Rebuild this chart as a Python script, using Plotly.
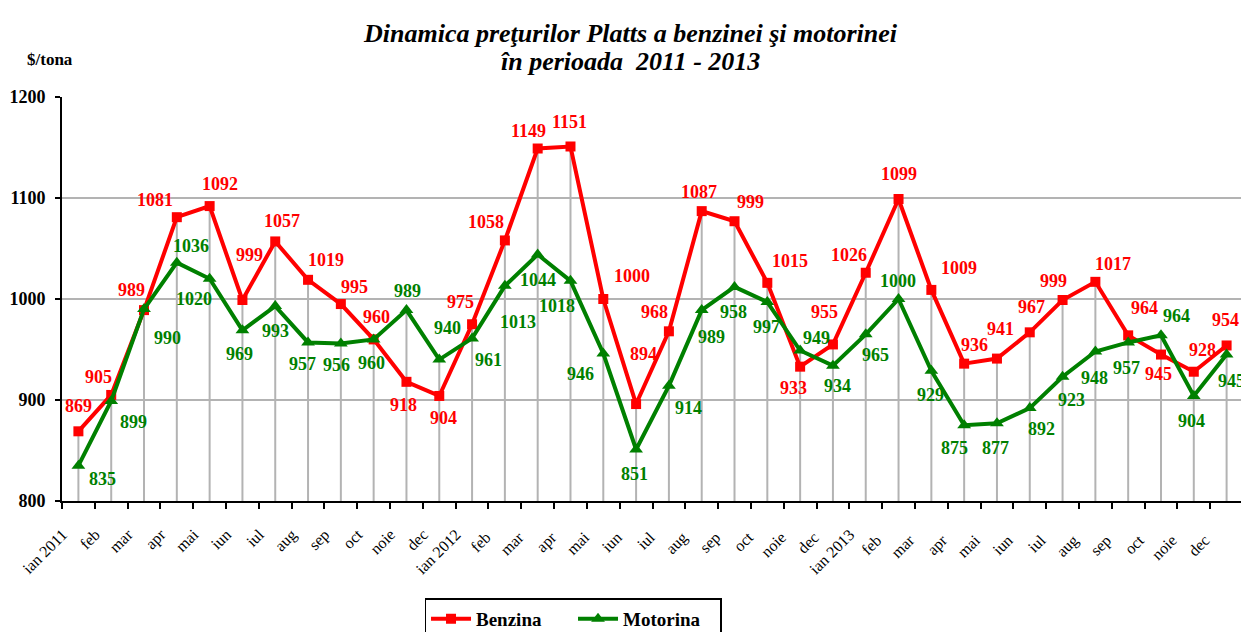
import plotly.graph_objects as go

months = ["ian 2011", "feb", "mar", "apr", "mai", "iun", "iul", "aug", "sep", "oct", "noie", "dec",
          "ian 2012", "feb ", "mar ", "apr ", "mai ", "iun ", "iul ", "aug ", "sep ", "oct ", "noie ", "dec ",
          "ian 2013", "feb  ", "mar  ", "apr  ", "mai  ", "iun  ", "iul  ", "aug  ", "sep  ", "oct  ", "noie  ", "dec  "]

benzina = [869, 905, 989, 1081, 1092, 999, 1057, 1019, 995, 960, 918, 904,
           975, 1058, 1149, 1151, 1000, 896, 968, 1087, 1077, 1016, 933, 955,
           1026, 1099, 1009, 936, 941, 967, 999, 1017, 964, 945, 928, 954]
benzina_labels = ["869", "905", "989", "1081", "1092", "999", "1057", "1019", "995", "960", "918", "904",
                  "975", "1058", "1149", "1151", "1000", "894", "968", "1087", "999", "1015", "933", "955",
                  "1026", "1099", "1009", "936", "941", "967", "999", "1017", "964", "945", "928", "954"]

motorina = [835, 899, 990, 1036, 1020, 969, 993, 957, 956, 960, 989, 940,
            961, 1013, 1044, 1018, 946, 851, 914, 989, 1012, 997, 949, 934,
            965, 1000, 929, 875, 877, 892, 923, 948, 957, 964, 904, 945]
motorina_labels = ["835", "899", "990", "1036", "1020", "969", "993", "957", "956", "960", "989", "940",
                   "961", "1013", "1044", "1018", "946", "851", "914", "989", "958", "997", "949", "934",
                   "965", "1000", "929", "875", "877", "892", "923", "948", "957", "964", "904", "945"]

# label offsets in pixels (x, y up) relative to the point -- styling only
red_off = [(0, 25), (-13, 18), (-13, 20), (-22, 17), (10, 22), (7, 45), (7, 20), (18, 20), (14, 17),
           (3, 22), (-3, -23), (4, -22), (-12, 22), (-19, 18), (-9, 18), (-1, 24), (29, 23), (7, 50),
           (-14, 19), (-3, 19), (16, 19), (23, 22), (-7, -21), (-8, 32), (-17, 18), (0, 25), (28, 22),
           (10, 19), (4, 30), (2, 25), (-9, 19), (18, 18), (16, 27), (-2, -19), (9, 22), (-1, 25)]
green_off = [(24, -13), (22, -21), (23, -29), (14, 17), (-16, -20), (-3, -24), (0, -25), (-6, -22),
             (-4, -22), (-2, -24), (1, 19), (8, 32), (16, -22), (13, -36), (0, -25), (-13, -25),
             (-23, -20), (-2, -25), (20, -22), (10, -27), (-1, -25), (-1, -25), (16, 13), (5, -20),
             (10, -21), (-1, 18), (-1, -24), (-10, -23), (-1, -25), (12, -21), (9, -23), (-1, -26),
             (-2, -26), (16, 19), (-2, -25), (5, -26)]

RED = "#ff0000"
GREEN = "#008000"
SERIF = "Liberation Serif, Times New Roman, serif"
LBL = 18

# drop lines from axis to the higher of the two series
dx, dy = [], []
for m, b, d in zip(months, benzina, motorina):
    dx += [m, m, None]
    dy += [800, max(b, d), None]

fig = go.Figure()
fig.add_trace(go.Scatter(x=dx, y=dy, mode="lines", line=dict(color="#b3b3b3", width=2),
                         showlegend=False, hoverinfo="skip"))
fig.add_trace(go.Scatter(x=months, y=benzina, name="Benzina", mode="lines+markers",
                         line=dict(color=RED, width=4),
                         marker=dict(symbol="square", size=10, color=RED)))
fig.add_trace(go.Scatter(x=months, y=motorina, name="Motorina", mode="lines+markers",
                         line=dict(color=GREEN, width=4),
                         marker=dict(symbol="triangle-up", size=12, color=GREEN)))

annotations = []
for m, v, t, (ox, oy) in zip(months, benzina, benzina_labels, red_off):
    annotations.append(dict(x=m, y=v, text="<b>%s</b>" % t, xref="x", yref="y", showarrow=False,
                            xshift=ox, yshift=oy, font=dict(family=SERIF, size=LBL, color=RED)))
for m, v, t, (ox, oy) in zip(months, motorina, motorina_labels, green_off):
    annotations.append(dict(x=m, y=v, text="<b>%s</b>" % t, xref="x", yref="y", showarrow=False,
                            xshift=ox, yshift=oy, font=dict(family=SERIF, size=LBL, color=GREEN)))

annotations += [
    dict(text="<b><i>Dinamica preţurilor Platts a benzinei şi motorinei</i></b>", xref="paper",
         yref="paper", x=0.481, y=1.0, yshift=64, xanchor="center", yanchor="middle",
         showarrow=False, font=dict(family=SERIF, size=26, color="black")),
    dict(text="<b><i>în perioada  2011 - 2013</i></b>", xref="paper", yref="paper",
         x=0.481, y=1.0, yshift=36, xanchor="center", yanchor="middle",
         showarrow=False, font=dict(family=SERIF, size=26, color="black")),
    dict(text="<b>$/tona</b>", xref="paper", yref="paper", x=-0.031, y=1.0, yshift=38,
         xanchor="left", yanchor="middle", showarrow=False,
         font=dict(family=SERIF, size=17, color="black")),
]

fig.update_layout(
    width=1241, height=624,
    margin=dict(l=54, r=6, t=89, b=131, autoexpand=False),
    paper_bgcolor="white", plot_bgcolor="white",
    font=dict(family=SERIF, color="black"),
    showlegend=True,
    legend=dict(orientation="h", x=0.4327, xanchor="center", y=-0.241, yanchor="top",
                bordercolor="black", borderwidth=1.5, bgcolor="white",
                itemwidth=40, entrywidth=92, entrywidthmode="pixels",
                font=dict(family=SERIF, size=19, color="black", weight="bold")),
    xaxis=dict(type="category", range=[-0.5, 35.5], tickson="boundaries", ticks="outside",
               ticklen=6, tickwidth=1.5, tickcolor="black", showline=True, linecolor="black",
               linewidth=2, showgrid=False, tickangle=-45, automargin=False,
               ticklabelstandoff=16, ticklabelshift=-16,
               tickfont=dict(family=SERIF, size=16, color="black")),
    yaxis=dict(range=[800, 1200], dtick=100, showgrid=True, gridcolor="#b3b3b3", gridwidth=2,
               zeroline=False, showline=True, linecolor="black", linewidth=2, ticks="outside",
               ticklen=5, tickwidth=1.5, tickcolor="black", automargin=False,
               ticklabelstandoff=6,
               tickfont=dict(family=SERIF, size=18, color="black", weight="bold")),
    annotations=annotations,
)

fig.write_html("out.html")
